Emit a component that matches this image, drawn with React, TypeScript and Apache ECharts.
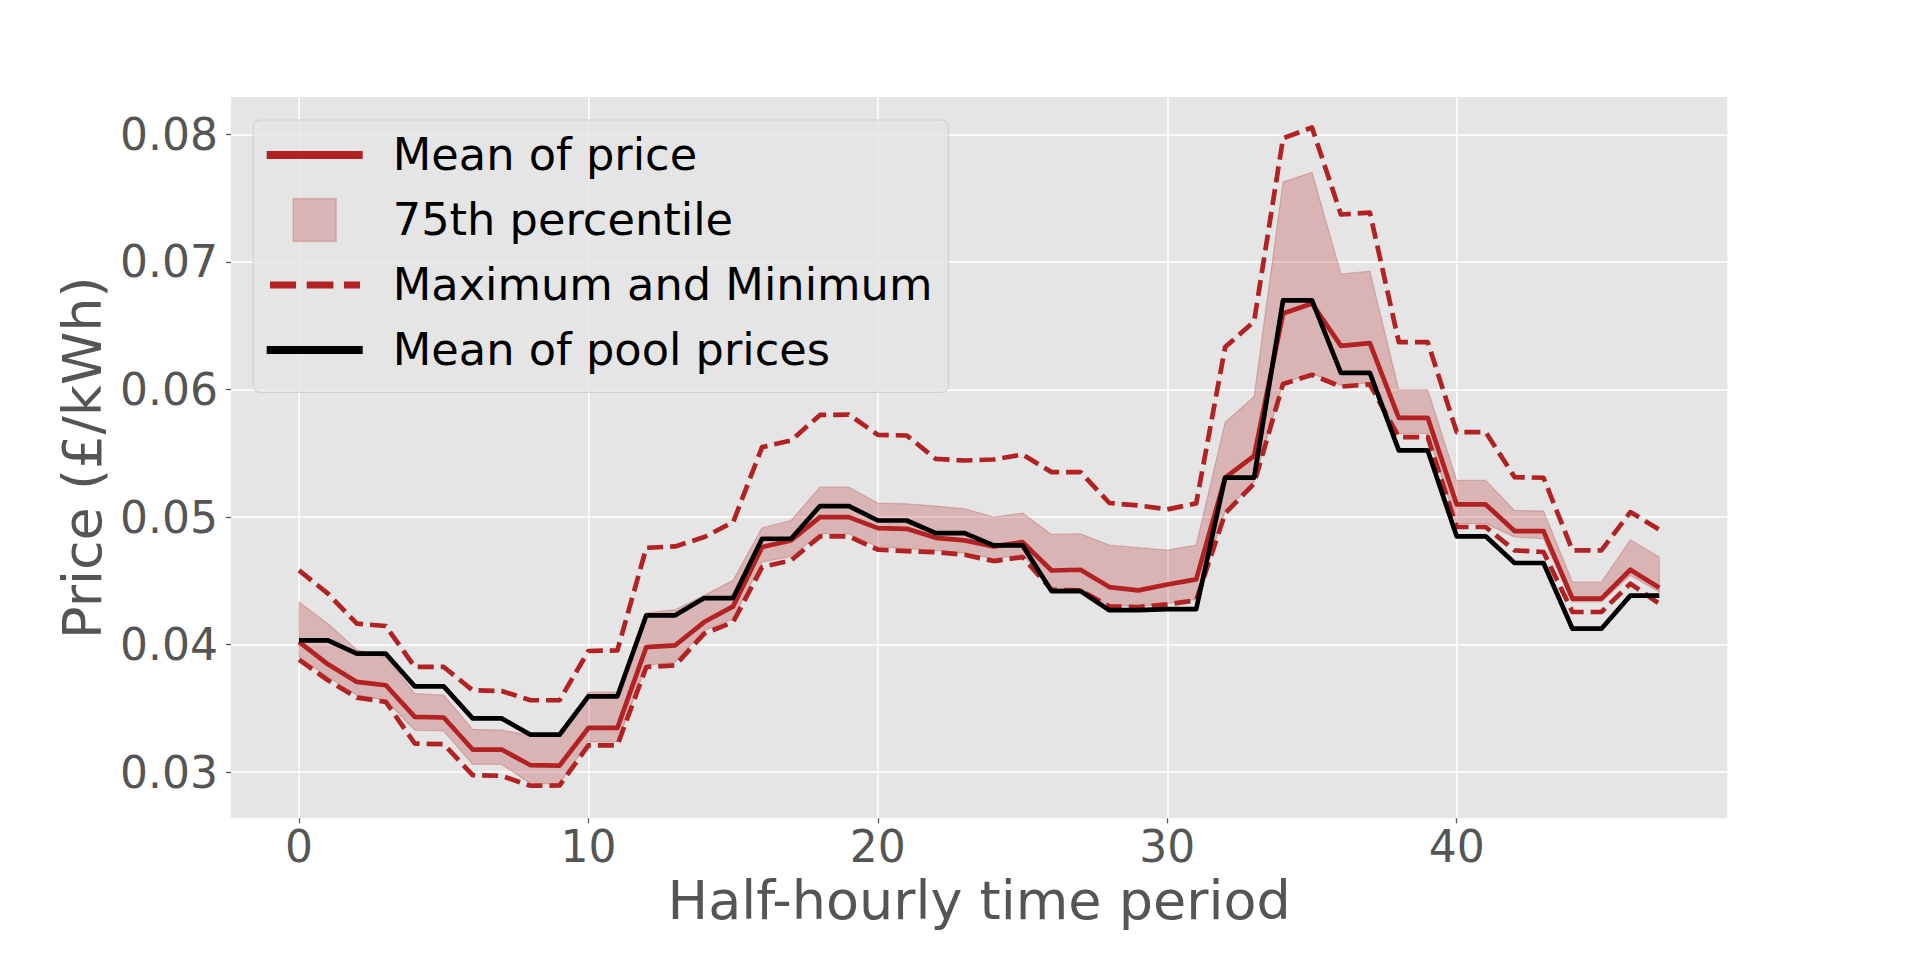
import React, { useEffect, useRef } from "react";
import * as echarts from "echarts";

// Half-hourly periods (x categories)
const periods = Array.from({ length: 48 }, (_, i) => i);

const xTicks = [0, 10, 20, 30, 40];
const yTicks = [0.03, 0.04, 0.05, 0.06, 0.07, 0.08];

const meanPrice = [
  0.04021, 0.03846, 0.03708, 0.03682, 0.03434, 0.03429, 0.03178, 0.03178,
  0.03055, 0.03052, 0.03347, 0.03347, 0.03981, 0.03995, 0.04177, 0.043,
  0.04765, 0.04817, 0.04999, 0.04999, 0.04913, 0.04908, 0.04837, 0.04817,
  0.0477, 0.04803, 0.04581, 0.04587, 0.04451, 0.04425, 0.04471, 0.04512,
  0.05309, 0.05479, 0.06595, 0.06673, 0.06341, 0.06363, 0.05778, 0.05778,
  0.05099, 0.05099, 0.0489, 0.0489, 0.0436, 0.0436, 0.04587, 0.04446,
];

const poolPrice = [
  0.04034, 0.04034, 0.03929, 0.03929, 0.03673, 0.03673, 0.03422, 0.03422,
  0.03294, 0.03294, 0.03595, 0.03595, 0.0423, 0.0423, 0.04365, 0.04365,
  0.0483, 0.0483, 0.05086, 0.05086, 0.04973, 0.04973, 0.04874, 0.04874,
  0.04778, 0.04778, 0.0442, 0.0442, 0.0427, 0.0427, 0.04279, 0.04279,
  0.05309, 0.05309, 0.06698, 0.06698, 0.0613, 0.0613, 0.05522, 0.05522,
  0.04849, 0.04849, 0.0464, 0.0464, 0.04125, 0.04125, 0.04384, 0.04384,
];

const maxPrice = [
  0.04582, 0.044, 0.04164, 0.04146, 0.03825, 0.03825, 0.03642, 0.03637,
  0.03564, 0.03564, 0.0395, 0.03955, 0.04759, 0.0477, 0.04843, 0.0496,
  0.05548, 0.056, 0.058, 0.05803, 0.05644, 0.05639, 0.05456, 0.05443,
  0.05451, 0.0549, 0.05352, 0.05352, 0.0511, 0.05091, 0.0506, 0.05107,
  0.06332, 0.06533, 0.07969, 0.08053, 0.07371, 0.07386, 0.06371, 0.06371,
  0.05666, 0.05666, 0.05313, 0.05308, 0.04739, 0.04739, 0.05039, 0.04901,
];

const minPrice = [
  0.03882, 0.03721, 0.03585, 0.03551, 0.03225, 0.0322, 0.02977, 0.02972,
  0.02894, 0.02896, 0.03211, 0.03211, 0.03825, 0.03838, 0.04086, 0.04177,
  0.04608, 0.0466, 0.04848, 0.04848, 0.04744, 0.04733, 0.04725, 0.04704,
  0.04655, 0.04686, 0.0443, 0.04425, 0.04301, 0.04295, 0.04316, 0.04347,
  0.05029, 0.05262, 0.06043, 0.06115, 0.06022, 0.0604, 0.05627, 0.05627,
  0.04922, 0.04922, 0.04739, 0.04726, 0.04256, 0.04256, 0.04478, 0.04321,
];

const upper75 = [
  0.04334, 0.04164, 0.0396, 0.03904, 0.03617, 0.03604, 0.03336, 0.0333,
  0.03289, 0.03289, 0.03629, 0.03629, 0.04248, 0.04274, 0.04386, 0.04504,
  0.04916, 0.04973, 0.05234, 0.05234, 0.05109, 0.05104, 0.05086, 0.05065,
  0.05, 0.05031, 0.04864, 0.04869, 0.04781, 0.0476, 0.04741, 0.04781,
  0.05743, 0.05944, 0.07625, 0.07702, 0.06905, 0.06927, 0.05997, 0.05997,
  0.05287, 0.05287, 0.05052, 0.05047, 0.04491, 0.04491, 0.04822, 0.04687,
];

const lower75 = [
  0.03903, 0.03747, 0.03604, 0.03565, 0.03329, 0.03323, 0.03062, 0.03062,
  0.02911, 0.02911, 0.03237, 0.03237, 0.03838, 0.03864, 0.04112, 0.04203,
  0.04647, 0.04691, 0.04869, 0.04869, 0.04765, 0.04752, 0.04738, 0.04718,
  0.04673, 0.04707, 0.04438, 0.04438, 0.04307, 0.043, 0.04322, 0.04355,
  0.05045, 0.05278, 0.06053, 0.06124, 0.06031, 0.06053, 0.05653, 0.05653,
  0.04948, 0.04948, 0.04843, 0.0483, 0.04334, 0.04334, 0.04543, 0.04413,
];

export default function App() {
  const ref = useRef<HTMLDivElement>(null);

  useEffect(() => {
    if (!ref.current) return;
    const chart = echarts.init(ref.current, undefined, { renderer: "svg" });
    const font = "DejaVu Sans";
    const red = "#b22222";
    const fill = "rgba(178,34,34,0.25)";
    const tickGrey = "#555555";
    const lw = 4.7;
    const dash = [16, 7];
    const pair = (ys: number[]) => periods.map((x, i) => [x, ys[i]]);

    const solidIcon = "path://M0,0H96V8H0Z";
    const squareIcon = "path://M0,0H43V43H0Z";
    const dashIcon =
      "path://M0,0.5M96,7.5M3.3,0.5H29.3V7.5H3.3Z M40,0.5H66.7V7.5H40Z M77.3,0.5H93.3V7.5H77.3Z";

    chart.setOption({
      animation: false,
      backgroundColor: "#ffffff",
      textStyle: { fontFamily: font },
      grid: {
        left: 231,
        right: 192.7,
        top: 97,
        bottom: 144.7,
        show: true,
        backgroundColor: "#E5E5E5",
        borderWidth: 0,
        containLabel: false,
      },
      legend: {
        orient: "vertical",
        left: 253.3,
        top: 120,
        padding: [12.5, 16, 20, 13.4],
        itemWidth: 96,
        itemHeight: 43,
        itemGap: 20,
        symbolKeepAspect: true,
        backgroundColor: "rgba(229,229,229,0.8)",
        borderColor: "rgba(204,204,204,0.8)",
        borderWidth: 1.2,
        borderRadius: 7,
        selectedMode: false,
        textStyle: {
          fontFamily: font,
          fontSize: 44.7,
          color: "#000000",
          padding: [0, 0, 0, 25],
        },
        data: [
          {
            name: "Mean of price",
            icon: solidIcon,
            itemStyle: { color: red, borderWidth: 0 },
          },
          {
            name: "75th percentile",
            icon: squareIcon,
            itemStyle: { color: fill, borderColor: "rgba(178,34,34,0.2)", borderWidth: 1.5 },
          },
          {
            name: "Maximum and Minimum",
            icon: dashIcon,
            itemStyle: { color: red, borderWidth: 0 },
          },
          {
            name: "Mean of pool prices",
            icon: solidIcon,
            itemStyle: { color: "#000000", borderWidth: 0 },
          },
        ],
      },
      xAxis: {
        type: "value",
        min: -2.35,
        max: 49.35,
        name: "Half-hourly time period",
        nameLocation: "middle",
        nameGap: 52.7,
        nameTextStyle: { fontFamily: font, fontSize: 54, color: tickGrey },
        axisLine: { show: false, onZero: false },
        axisTick: {
          show: true,
          length: 5,
          lineStyle: { color: tickGrey, width: 1.3 },
          customValues: xTicks,
        },
        axisLabel: {
          customValues: xTicks,
          margin: 6,
          fontFamily: font,
          fontSize: 44,
          color: tickGrey,
        },
        splitLine: {
          show: true,
          showMinLine: true,
          showMaxLine: true,
          lineStyle: { color: "#ffffff", width: 1.5 },
        },
      },
      yAxis: {
        type: "value",
        min: 0.02639,
        max: 0.08292,
        name: "Price (£/kWh)",
        nameLocation: "middle",
        nameRotate: 90,
        nameGap: 118.5,
        nameTextStyle: { fontFamily: font, fontSize: 54, color: tickGrey },
        axisLine: { show: false, onZero: false },
        axisTick: {
          show: true,
          length: 5,
          lineStyle: { color: tickGrey, width: 1.3 },
          customValues: yTicks,
        },
        axisLabel: {
          customValues: yTicks,
          margin: 13,
          fontFamily: font,
          fontSize: 44,
          color: tickGrey,
          formatter: (v: number) => v.toFixed(2),
        },
        splitLine: {
          show: true,
          showMinLine: true,
          showMaxLine: true,
          lineStyle: { color: "#ffffff", width: 1.5 },
        },
      },
      series: [
        {
          name: "75th percentile",
          type: "custom",
          z: 1,
          itemStyle: { color: fill },
          data: [[periods[0], upper75[0]]],
          renderItem: (_params: any, api: any) => {
            const pts: number[][] = [];
            for (let i = 0; i < periods.length; i++) pts.push(api.coord([periods[i], upper75[i]]));
            for (let i = periods.length - 1; i >= 0; i--) pts.push(api.coord([periods[i], lower75[i]]));
            return {
              type: "polygon",
              shape: { points: pts },
              style: { fill: fill, stroke: fill, lineWidth: 1.2 },
            };
          },
        },
        {
          name: "Mean of price",
          type: "line",
          z: 2,
          data: pair(meanPrice),
          symbol: "none",
          lineStyle: { color: red, width: lw, join: "round" },
          itemStyle: { color: red },
        },
        {
          name: "Maximum and Minimum",
          type: "line",
          z: 3,
          data: pair(maxPrice),
          symbol: "none",
          lineStyle: { color: red, width: lw, type: dash, join: "round" },
          itemStyle: { color: red },
        },
        {
          name: "Maximum and Minimum",
          type: "line",
          z: 3,
          data: pair(minPrice),
          symbol: "none",
          lineStyle: { color: red, width: lw, type: dash, join: "round" },
          itemStyle: { color: red },
        },
        {
          name: "Mean of pool prices",
          type: "line",
          z: 4,
          data: pair(poolPrice),
          symbol: "none",
          lineStyle: { color: "#000000", width: lw, join: "round" },
          itemStyle: { color: "#000000" },
        },
      ],
    });

    return () => chart.dispose();
  }, []);

  return (
    <div
      ref={ref}
      style={{ position: "fixed", left: 0, top: 0, width: 1920, height: 963, background: "#ffffff" }}
    />
  );
}
